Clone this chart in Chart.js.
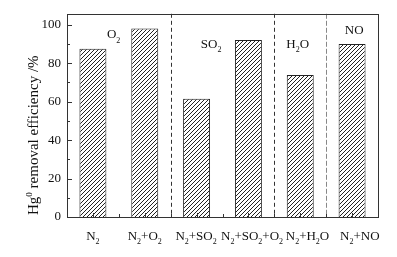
<!DOCTYPE html>
<html>
<head>
<meta charset="utf-8">
<script src="https://cdn.jsdelivr.net/npm/chart.js@4/dist/chart.umd.min.js"></script>
<style>
  html, body { margin: 0; padding: 0; background: #fff; }
  #wrap { width: 397px; height: 257px; }
</style>
</head>
<body>
<div id="wrap"><canvas id="c" width="397" height="257"></canvas></div>
<script>
// 資料 (_ = 下標, ^ = 上標)
const categories = ['N_2', 'N_2+O_2', 'N_2+SO_2', 'N_2+SO_2+O_2', 'N_2+H_2O', 'N_2+NO'];
const removal = [87.5, 98.1, 61.5, 92.1, 73.9, 90.0];
const yTicks = [0, 20, 40, 60, 80, 100];
const yMinorTicks = [10, 30, 50, 70, 90];
const groupLabels = ['O_2', 'SO_2', 'H_2O', 'NO'];
const groupAt = [[0.4, 95.2], [2.28, 90.3], [3.95, 90.3], [5.04, 97.3]]; // 類別 / 數值座標
const labelAt = [0, 1.0, 1.99, 3.07, 4.14, 5.15]; // x 標籤的類別座標
const dividers = [1.5, 3.5, 4.5];
const yTitle = 'Hg^0 removal efficiency /%';

const FONT = '"Liberation Serif", "Times New Roman", serif';

// 斜線填充 (像素階梯)
function makeHatch() {
    const s = 4;
    const c = document.createElement('canvas');
    c.width = s; c.height = s;
    const g = c.getContext('2d');
    g.fillStyle = '#fff';
    g.fillRect(0, 0, s, s);
    g.fillStyle = '#222';
    for (let i = 0; i < s; i++) {
        g.fillRect(i, s - 1 - i, 1, 1);
    }
    return g.createPattern(c, 'repeat');
}

function parseRich(str) {
    const parts = [];
    for (let i = 0; i < str.length; i++) {
        const ch = str[i];
        if ((ch === '_' || ch === '^') && i + 1 < str.length) {
            parts.push([str[i + 1], ch === '_' ? 'sub' : 'sup']);
            i++;
        } else {
            if (parts.length && parts[parts.length - 1][1] === 'n') parts[parts.length - 1][0] += ch;
            else parts.push([ch, 'n']);
        }
    }
    return parts;
}

function drawRich(ctx, str, x, y, size, align) {
    const parts = parseRich(str);
    const big = size + 'px ' + FONT;
    const small = Math.round(size * 0.6) + 'px ' + FONT;
    let w = 0;
    parts.forEach(p => {
        ctx.font = p[1] === 'n' ? big : small;
        p.push(ctx.measureText(p[0]).width);
        w += p[2];
    });
    let cx = align === 'left' ? x : x - w / 2;
    parts.forEach(p => {
        ctx.font = p[1] === 'n' ? big : small;
        let dy = 0;
        if (p[1] === 'sub') dy = size * 0.32;
        if (p[1] === 'sup') dy = -size * 0.38;
        ctx.fillText(p[0], cx, y + dy);
        cx += p[2];
    });
}

const decor = {
    id: 'decor',
    afterDraw(chart) {
        const ctx = chart.ctx;
        const a = chart.chartArea;
        const xs = chart.scales.x;
        const ys = chart.scales.y;
        ctx.save();

        // 虛線分隔
        dividers.forEach((d, i) => {
            const px = Math.round(xs.getPixelForValue(d)) + 0.5;
            ctx.strokeStyle = i === dividers.length - 1 ? '#888' : '#333';
            ctx.setLineDash(i === dividers.length - 1 ? [5, 2] : [4, 3]);
            ctx.lineWidth = 1;
            ctx.beginPath();
            ctx.moveTo(px, a.top);
            ctx.lineTo(px, a.bottom);
            ctx.stroke();
        });
        ctx.setLineDash([]);

        // 外框
        ctx.strokeStyle = '#333';
        ctx.lineWidth = 1;
        ctx.strokeRect(Math.round(a.left) + 0.5, Math.round(a.top) + 0.5,
            Math.round(a.right - a.left), Math.round(a.bottom - a.top));

        // y 軸刻度 (向內)
        ctx.beginPath();
        yTicks.forEach(v => {
            const py = Math.round(ys.getPixelForValue(v)) + 0.5;
            ctx.moveTo(a.left, py); ctx.lineTo(a.left + 5, py);
        });
        yMinorTicks.forEach(v => {
            const py = Math.round(ys.getPixelForValue(v)) + 0.5;
            ctx.moveTo(a.left, py); ctx.lineTo(a.left + 3, py);
        });
        // x 軸刻度
        categories.forEach((c, i) => {
            const px = Math.round(xs.getPixelForValue(i)) + 0.5;
            ctx.moveTo(px, a.bottom); ctx.lineTo(px, a.bottom - 4);
            if (i < categories.length - 1) {
                const pm = Math.round(xs.getPixelForValue(i + 0.5)) + 0.5;
                ctx.moveTo(pm, a.bottom); ctx.lineTo(pm, a.bottom - 3);
            }
        });
        ctx.stroke();

        ctx.fillStyle = '#111';
        ctx.textBaseline = 'alphabetic';

        // x 軸標籤
        categories.forEach((c, i) => {
            drawRich(ctx, c, xs.getPixelForValue(labelAt[i]), a.bottom + 23, 13, 'center');
        });

        // 組別標籤
        groupLabels.forEach((g, i) => {
            const px = xs.getPixelForValue(groupAt[i][0]);
            const py = ys.getPixelForValue(groupAt[i][1]);
            drawRich(ctx, g, px, py + 4.5, 13, 'center');
        });

        // y 軸標題
        ctx.translate(38, 215);
        ctx.rotate(-Math.PI / 2);
        drawRich(ctx, yTitle, 0, 0, 15, 'left');
        ctx.restore();
    }
};

const ctx = document.getElementById('c').getContext('2d');
new Chart(ctx, {
    type: 'bar',
    data: {
        labels: categories,
        datasets: [{
            data: removal,
            backgroundColor: makeHatch(),
            borderColor: '#222',
            borderWidth: 1,
            categoryPercentage: 1,
            barPercentage: 0.52
        }]
    },
    options: {
        responsive: false,
        animation: false,
        layout: { padding: { top: 13, right: 19, left: 0, bottom: 0 } },
        plugins: { legend: { display: false }, tooltip: { enabled: false } },
        scales: {
            x: {
                grid: { display: false, drawTicks: false },
                border: { display: false },
                ticks: { display: false },
                afterFit: s => { s.height = 40; }
            },
            y: {
                min: 0,
                max: 105.7,
                grid: { display: false, drawTicks: false },
                border: { display: false },
                afterBuildTicks: s => { s.ticks = yTicks.map(v => ({ value: v })); },
                ticks: {
                    padding: 6,
                    color: '#111',
                    font: { family: FONT, size: 13 }
                },
                afterFit: s => { s.width = 67; }
            }
        }
    },
    plugins: [decor]
});
</script>
</body>
</html>
